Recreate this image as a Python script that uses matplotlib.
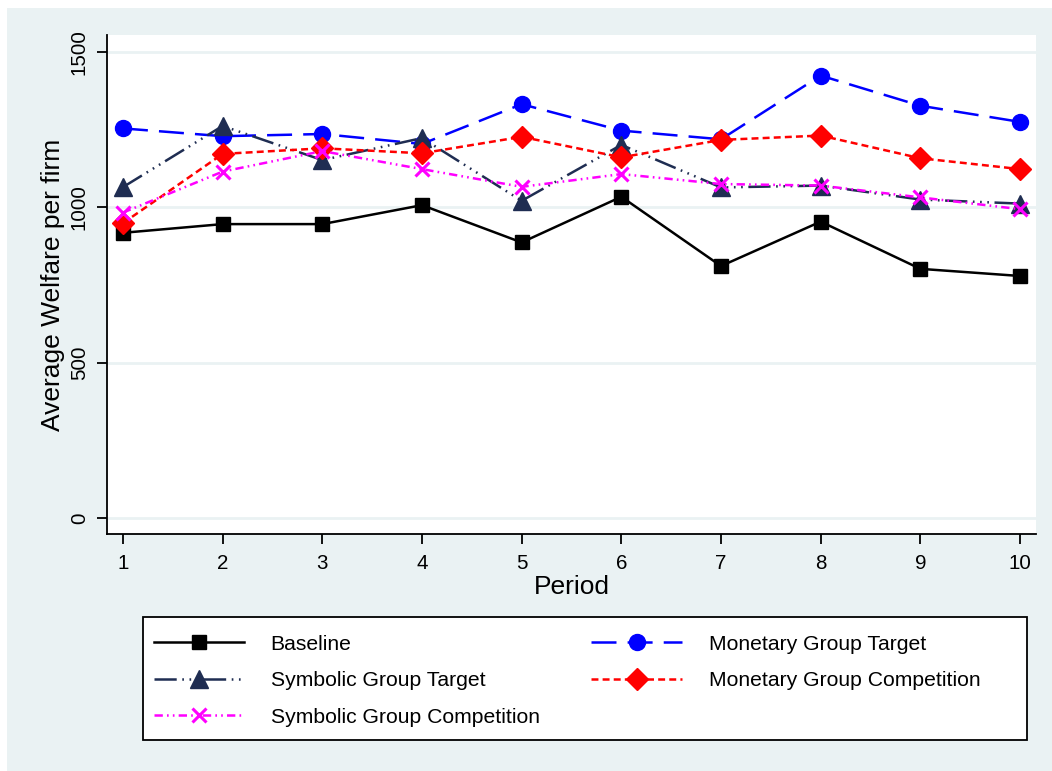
import numpy as np
import matplotlib
matplotlib.use("Agg")
from matplotlib import pyplot as plt
from matplotlib.patches import Rectangle

plt.rcParams['font.family'] = ['Liberation Sans', 'DejaVu Sans']
plt.rcParams['lines.scale_dashes'] = False

# values
periods = [1, 2, 3, 4, 5, 6, 7, 8, 9, 10]
baseline = [918, 946, 946, 1007, 887, 1034, 811, 954, 802, 779]
monetary_target = [1254, 1229, 1236, 1204, 1332, 1247, 1219, 1424, 1327, 1275]
symbolic_target = [1065, 1262, 1152, 1223, 1021, 1201, 1064, 1070, 1025, 1012]
monetary_comp = [949, 1172, 1190, 1174, 1227, 1161, 1217, 1231, 1158, 1123]
symbolic_comp = [983, 1115, 1181, 1123, 1066, 1107, 1075, 1070, 1032, 994]

y_ticks = [0, 500, 1000, 1500]

BG = '#EAF2F3'
W, H = 1052, 771

fig = plt.figure(figsize=(W / 100, H / 100), dpi=100)
fig.patch.set_facecolor('white')
# stata-style outer region
fig.patches.append(Rectangle((7 / W, 0), 1 - 7 / W, 1 - 8 / H, transform=fig.transFigure,
                             facecolor=BG, edgecolor='none', zorder=-5))

ax = fig.add_axes([107 / W, 1 - 534 / H, 929 / W, 499 / H])
ax.set_zorder(1)
ax.set_facecolor('white')

lw = 1.8
h_base, = ax.plot(periods, baseline, color='black', lw=lw, marker='s', ms=10,
                  label='Baseline')
h_mt, = ax.plot(periods, monetary_target, color='#0000FF', lw=lw, marker='o', ms=11.5,
                dashes=(18, 8), label='Monetary Group Target')
h_st, = ax.plot(periods, symbolic_target, color='#1F2D52', lw=lw, marker='^', ms=13,
                dashes=(16, 4, 1.2, 4, 1.2, 4, 1.2, 4), label='Symbolic Group Target')
h_mc, = ax.plot(periods, monetary_comp, color='#FF0000', lw=lw, marker='D', ms=11,
                dashes=(5, 3), label='Monetary Group Competition')
h_sc, = ax.plot(periods, symbolic_comp, color='#FF00FF', lw=lw, marker='x', ms=10, mew=2.2,
                dashes=(6, 3, 1.2, 3, 1.2, 3), label='Symbolic Group Competition')

ax.set_xlim(0.84, 10.16)
ax.set_ylim(-51.5, 1554.7)
ax.set_xticks(periods)
ax.set_yticks(y_ticks)
ax.set_yticklabels([str(v) for v in y_ticks], rotation=90, va='center')
ax.grid(axis='y', color=BG, lw=2)
ax.set_axisbelow(True)

for s in ['top', 'right']:
    ax.spines[s].set_visible(False)
for s in ['left', 'bottom']:
    ax.spines[s].set_linewidth(1.3)
ax.tick_params(axis='both', length=7.5, width=1.3, labelsize=14.8)
ax.tick_params(axis='x', pad=7)
ax.tick_params(axis='y', pad=5.5)

ax.set_xlabel('Period', fontsize=19)
ax.xaxis.set_label_coords(0.5, -0.106)
ax.xaxis.label.set_va('center')
ax.set_ylabel('Average Welfare per firm', fontsize=19)
ax.yaxis.set_label_coords(-0.058, 0.5)
ax.yaxis.label.set_va('center')

# legend box
fig.patches.append(Rectangle((143 / W, 1 - 740 / H), 884 / W, 123 / H, transform=fig.transFigure,
                             facecolor='white', edgecolor='black', lw=1.3, zorder=1))
leg = fig.legend([h_base, h_st, h_sc, h_mt, h_mc],
                 ['Baseline', 'Symbolic Group Target', 'Symbolic Group Competition',
                  'Monetary Group Target', 'Monetary Group Competition'],
                 ncol=2, frameon=False, fontsize=15.2, loc='upper left',
                 bbox_to_anchor=(143 / W, 1 - 624 / H), borderaxespad=0,
                 handlelength=4.3, handletextpad=1.25, columnspacing=2.45,
                 labelspacing=0.83, borderpad=0.5)
leg.set_zorder(2)

fig.savefig('out.png', dpi=100)
